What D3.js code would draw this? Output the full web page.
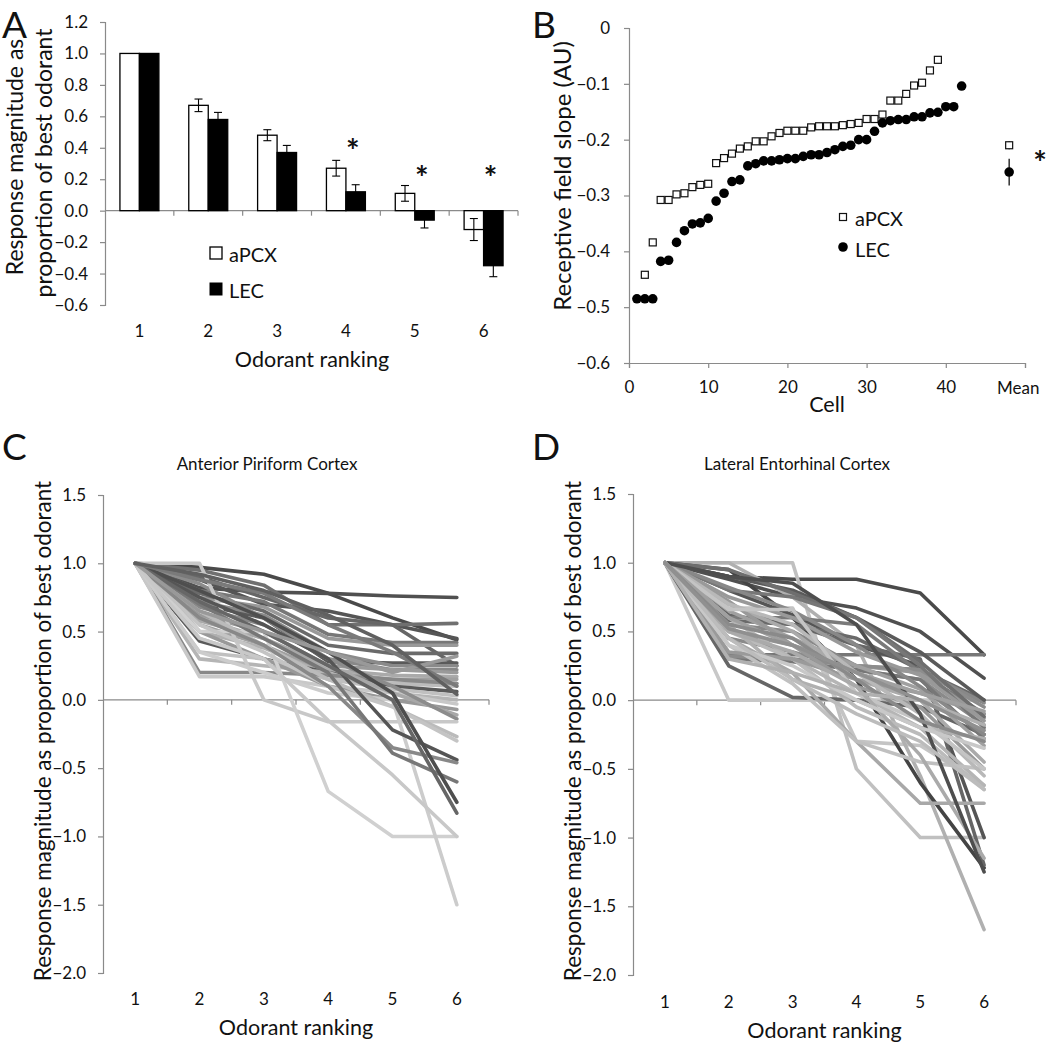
<!DOCTYPE html>
<html>
<head>
<meta charset="utf-8">
<script src="https://cdn.jsdelivr.net/npm/d3@7"></script>
<style>
  body { margin: 0; background: #fff; }
  svg { display: block; }
  text { font-family: Lato, "Open Sans", sans-serif; fill: #111; }
</style>
</head>
<body>
<svg id="chart" width="1050" height="1043"></svg>
<script>
// ---------------- DATA ----------------
// Panel A
const rankings = [1, 2, 3, 4, 5, 6];
const aPCXMean = [1.0, 0.67, 0.48, 0.27, 0.11, -0.12];
const aPCXErr  = [0.0, 0.04, 0.035, 0.05, 0.05, 0.07];
const lecMean  = [1.0, 0.58, 0.37, 0.12, -0.06, -0.35];
const lecErr   = [0.0, 0.045, 0.045, 0.045, 0.05, 0.07];
const sigRanks = [4, 5, 6];
const aTicks = [-0.6, -0.4, -0.2, 0.0, 0.2, 0.4, 0.6, 0.8, 1.0, 1.2];

// Panel B
const aPCXCells = [2,3,4,5,6,7,8,9,10,11,12,13,14,15,16,17,18,19,20,21,22,23,24,25,26,27,28,29,30,31,32,33,34,35,36,37,38,39];
const aPCXSlopes = [-0.442,-0.384,-0.308,-0.308,-0.298,-0.296,-0.285,-0.281,-0.279,-0.242,-0.233,-0.225,-0.216,-0.212,-0.203,-0.203,-0.194,-0.188,-0.184,-0.184,-0.184,-0.178,-0.176,-0.176,-0.176,-0.174,-0.172,-0.170,-0.163,-0.163,-0.155,-0.130,-0.130,-0.118,-0.103,-0.098,-0.076,-0.057];
const lecCells = [1,2,3,4,5,6,7,8,9,10,11,12,13,14,15,16,17,18,19,20,21,22,23,24,25,26,27,28,29,30,31,32,33,34,35,36,37,38,39,40,41,42];
const lecSlopes = [-0.485,-0.485,-0.485,-0.418,-0.416,-0.384,-0.363,-0.351,-0.349,-0.341,-0.310,-0.296,-0.275,-0.272,-0.247,-0.243,-0.238,-0.238,-0.236,-0.234,-0.234,-0.230,-0.227,-0.227,-0.223,-0.218,-0.212,-0.210,-0.200,-0.200,-0.185,-0.170,-0.166,-0.164,-0.164,-0.159,-0.159,-0.152,-0.151,-0.141,-0.141,-0.104];
const meanPos = 48;
const aPCXSlopeMean = -0.210, aPCXSlopeSem = 0.007;
const lecSlopeMean = -0.258, lecSlopeSem = 0.024;
const bYTicks = [-0.6, -0.5, -0.4, -0.3, -0.2, -0.1, 0];
const bXTicks = [0, 10, 20, 30, 40];

// Panels C & D: each row = one cell's responses at odorant ranks 1..6
const cdYTicks = [-2.0, -1.5, -1.0, -0.5, 0.0, 0.5, 1.0, 1.5];
const apcxLines = [
  [1, 0.97, 0.92, 0.78, 0.60, 0.44],
  [1, 0.82, 0.79, 0.78, 0.76, 0.75],
  [1, 0.88, 0.70, 0.65, 0.55, 0.45],
  [1, 0.95, 0.84, 0.55, 0.55, 0.56],
  [1, 0.90, 0.75, 0.60, 0.55, 0.25],
  [1, 0.80, 0.72, 0.48, 0.42, 0.42],
  [1, 0.75, 0.68, 0.45, 0.40, 0.40],
  [1, 0.78, 0.65, 0.40, 0.34, 0.34],
  [1, 0.70, 0.60, 0.28, 0.27, 0.27],
  [1, 0.72, 0.62, 0.35, 0.25, 0.25],
  [1, 0.68, 0.55, 0.30, 0.22, 0.22],
  [1, 0.62, 0.50, 0.25, 0.22, 0.20],
  [1, 0.58, 0.45, 0.22, 0.18, 0.17],
  [1, 0.55, 0.40, 0.20, 0.15, 0.15],
  [1, 0.50, 0.38, 0.18, 0.12, 0.12],
  [1, 0.45, 0.30, 0.15, 0.12, 0.10],
  [1, 0.43, 0.30, 0.20, 0.10, 0.06],
  [1, 0.35, 0.30, 0.15, 0.08, 0.03],
  [1, 0.30, 0.25, 0.20, 0.05, 0.00],
  [1, 0.20, 0.20, 0.18, 0.15, 0.12],
  [1, 0.17, 0.17, 0.10, 0.05, -0.03],
  [1, 0.50, 0.30, 0.10, 0.00, -0.07],
  [1, 0.60, 0.45, 0.25, 0.05, -0.11],
  [1, 0.85, 0.60, 0.30, 0.10, -0.14],
  [1, 1.00, 0.00, -0.16, -0.16, -0.16],
  [1, 0.50, 0.50, -0.67, -1.00, -1.00],
  [1, 0.35, 0.20, 0.05, 0.00, -1.50],
  [1, 0.65, 0.40, 0.15, -0.05, -0.27],
  [1, 0.55, 0.35, 0.10, -0.05, -0.30],
  [1, 0.75, 0.55, 0.30, -0.22, -0.44],
  [1, 0.60, 0.40, 0.10, -0.35, -0.46],
  [1, 0.70, 0.45, 0.20, -0.39, -0.60],
  [1, 0.80, 0.60, 0.35, 0.05, -0.75],
  [1, 0.72, 0.50, 0.25, 0.00, -0.83],
  [1, 0.45, 0.30, -0.15, -0.55, -1.00],
  [1, 0.65, 0.50, 0.35, 0.20, 0.32],
  [1, 0.88, 0.78, 0.55, 0.35, 0.10],
  [1, 0.92, 0.80, 0.62, 0.40, 0.04]
];
const lecLines = [
  [1, 0.90, 0.88, 0.88, 0.78, 0.33],
  [1, 0.88, 0.75, 0.67, 0.50, 0.16],
  [1, 0.33, 0.33, 0.33, 0.33, 0.33],
  [1, 0.00, 0.00, 0.00, 0.00, 0.00],
  [1, 1.00, 1.00, -0.50, -1.00, -1.00],
  [1, 0.67, 0.67, -0.30, -0.33, -0.62],
  [1, 1.00, 0.75, 0.40, -0.55, -1.67],
  [1, 0.95, 0.60, 0.15, -0.60, -1.22],
  [1, 0.80, 0.62, 0.40, 0.25, -1.00],
  [1, 0.62, 0.55, 0.40, 0.30, -1.20],
  [1, 0.58, 0.55, 0.45, 0.22, 0.00],
  [1, 0.60, 0.60, 0.55, 0.20, -0.10],
  [1, 0.55, 0.50, 0.25, 0.22, -0.02],
  [1, 0.50, 0.40, 0.25, 0.20, -0.13],
  [1, 0.45, 0.35, 0.22, 0.15, -0.18],
  [1, 0.25, 0.02, 0.00, -0.05, -0.25],
  [1, 0.30, 0.28, 0.22, 0.15, -0.28],
  [1, 0.32, 0.30, 0.25, 0.22, -0.05],
  [1, 0.65, 0.45, 0.25, 0.08, -0.33],
  [1, 0.70, 0.50, 0.15, 0.00, -0.45],
  [1, 0.72, 0.40, 0.10, -0.05, -0.50],
  [1, 0.60, 0.30, 0.05, -0.20, -0.62],
  [1, 0.50, 0.30, -0.05, -0.25, -0.65],
  [1, 0.45, 0.20, -0.30, -0.75, -0.75],
  [1, 0.40, 0.12, -0.30, -0.45, -0.50],
  [1, 0.55, 0.15, 0.00, -0.20, -0.28],
  [1, 0.35, 0.30, 0.15, 0.05, -0.10],
  [1, 0.90, 0.80, 0.60, 0.35, 0.00],
  [1, 0.95, 0.78, 0.60, 0.28, -0.12],
  [1, 0.80, 0.75, 0.60, 0.25, -0.20],
  [1, 0.82, 0.65, 0.40, 0.10, -0.25],
  [1, 0.75, 0.60, 0.35, 0.18, -0.15],
  [1, 0.70, 0.55, 0.20, -0.10, -0.55],
  [1, 0.66, 0.66, 0.05, -0.15, -0.50],
  [1, 0.50, 0.35, 0.10, -0.40, -1.15],
  [1, 0.90, 0.85, 0.55, -0.10, -1.25],
  [1, 0.40, 0.25, 0.00, -0.20, -0.35],
  [1, 0.60, 0.40, 0.20, 0.05, -0.08],
  [1, 0.55, 0.45, 0.15, -0.15, -0.30],
  [1, 0.45, 0.15, -0.10, -0.30, -0.65],
  [1, 0.30, 0.20, 0.05, 0.00, -0.18],
  [1, 0.52, 0.40, 0.20, 0.00, -0.22]
];
// line shades (style)
const apcxShades = ["#4a4a4a","#505050","#555555","#707070","#666666","#777777","#999999","#6a6a6a","#5a5a5a","#8a8a8a","#888888","#9a9a9a","#aaaaaa","#a0a0a0","#b0b0b0","#bbbbbb","#5a5a5a","#c0c0c0","#b5b5b5","#888888","#c8c8c8","#999999","#a8a8a8","#8c8c8c","#c8c8c8","#d0d0d0","#cccccc","#bbbbbb","#c4c4c4","#555555","#888888","#777777","#4e4e4e","#666666","#c8c8c8","#999999","#7a7a7a","#606060"];
const lecShades = ["#4a4a4a","#505050","#777777","#c8c8c8","#c0c0c0","#c4c4c4","#b0b0b0","#444444","#555555","#666666","#6a6a6a","#7a7a7a","#888888","#999999","#8a8a8a","#666666","#777777","#8c8c8c","#a0a0a0","#aaaaaa","#999999","#b5b5b5","#bbbbbb","#a8a8a8","#c0c0c0","#b0b0b0","#9a9a9a","#5a5a5a","#6e6e6e","#777777","#888888","#999999","#b8b8b8","#c4c4c4","#aaaaaa","#4e4e4e","#c8c8c8","#a0a0a0","#8a8a8a","#bcbcbc","#b0b0b0","#909090"];

// ---------------- DRAWING ----------------
const svg = d3.select("#chart");
const AXIS = "#8a8a8a";
const fmt1 = d3.format(".1f");
const fmtB = v => (v === 0 ? "0" : d3.format(".1f")(v));

function styleAxis(g) {
  g.selectAll(".domain").attr("stroke", AXIS).attr("stroke-width", 1.2);
  g.selectAll(".tick line").attr("stroke", AXIS).attr("stroke-width", 1.2);
  g.selectAll(".tick text").attr("font-family", "Lato, sans-serif").attr("font-size", 17).attr("fill", "#111");
}

function panelLetter(t, x, y) {
  svg.append("text").attr("x", x).attr("y", y).text(t)
    .attr("font-family", "'Liberation Sans', Arial, sans-serif").attr("font-size", 37);
}

// ===== Panel A =====
(function () {
  const x = d3.scaleBand().domain(rankings).range([105, 518]);
  const y = d3.scaleLinear().domain([-0.6, 1.2]).range([305, 22]);
  const bw = x.bandwidth() * 0.283;

  const ya = svg.append("g").attr("transform", "translate(105,0)")
    .call(d3.axisLeft(y).tickValues(aTicks).tickFormat(fmt1).tickSize(5).tickPadding(12));
  styleAxis(ya);

  svg.append("line").attr("x1", 105).attr("x2", 518).attr("y1", y(0)).attr("y2", y(0))
    .attr("stroke", AXIS).attr("stroke-width", 1.2);
  rankings.forEach(r => {
    const bx = x(r) + x.bandwidth();
    svg.append("line").attr("x1", bx).attr("x2", bx).attr("y1", y(0)).attr("y2", y(0) + 5)
      .attr("stroke", AXIS).attr("stroke-width", 1.2);
    svg.append("text").attr("x", x(r) + x.bandwidth() / 2).attr("y", 337)
      .attr("text-anchor", "middle").attr("font-size", 17).text(r);
  });

  const g = svg.append("g");
  rankings.forEach((r, i) => {
    const cx = x(r) + x.bandwidth() / 2;
    const v1 = aPCXMean[i];
    g.append("rect").attr("x", cx - bw).attr("width", bw)
      .attr("y", Math.min(y(v1), y(0))).attr("height", Math.abs(y(v1) - y(0)))
      .attr("fill", "#fff").attr("stroke", "#000").attr("stroke-width", 1.3);
    const v2 = lecMean[i];
    g.append("rect").attr("x", cx).attr("width", bw)
      .attr("y", Math.min(y(v2), y(0))).attr("height", Math.abs(y(v2) - y(0)))
      .attr("fill", "#000").attr("stroke", "#000").attr("stroke-width", 1.3);
    [[cx - bw / 2, v1, aPCXErr[i]], [cx + bw / 2, v2, lecErr[i]]].forEach(([ex, v, e]) => {
      if (e <= 0) return;
      g.append("line").attr("x1", ex).attr("x2", ex).attr("y1", y(v - e)).attr("y2", y(v + e))
        .attr("stroke", "#000").attr("stroke-width", 1.1);
      [v - e, v + e].forEach(t => g.append("line").attr("x1", ex - 4).attr("x2", ex + 4)
        .attr("y1", y(t)).attr("y2", y(t)).attr("stroke", "#000").attr("stroke-width", 1.1));
    });
  });
  const starY = {4: 145, 5: 172, 6: 172};
  sigRanks.forEach(r => {
    svg.append("text").attr("x", x(r) + x.bandwidth() / 2 + 7).attr("y", starY[r] + 18)
      .attr("text-anchor", "middle").attr("font-family", "'Liberation Sans', Arial, sans-serif")
      .attr("font-weight", "bold").attr("font-size", 32).text("*");
  });

  svg.append("rect").attr("x", 210).attr("y", 247).attr("width", 12).attr("height", 12)
    .attr("fill", "#fff").attr("stroke", "#000").attr("stroke-width", 1.3);
  svg.append("text").attr("x", 229).attr("y", 262).attr("font-size", 20).text("aPCX");
  svg.append("rect").attr("x", 210).attr("y", 283).attr("width", 12).attr("height", 12)
    .attr("fill", "#000").attr("stroke", "#000");
  svg.append("text").attr("x", 229).attr("y", 298).attr("font-size", 20).text("LEC");

  svg.append("text").attr("transform", "translate(23,157) rotate(-90)").attr("text-anchor", "middle")
    .attr("font-size", 23).text("Response magnitude as");
  svg.append("text").attr("transform", "translate(52,163) rotate(-90)").attr("text-anchor", "middle")
    .attr("font-size", 23).text("proportion of best odorant");
  svg.append("text").attr("x", 312).attr("y", 367).attr("text-anchor", "middle")
    .attr("font-size", 21.5).text("Odorant ranking");
  panelLetter("A", 2, 38);
})();

// ===== Panel B =====
(function () {
  const x = d3.scaleLinear().domain([0, 50]).range([629, 1025]);
  const y = d3.scaleLinear().domain([-0.6, 0]).range([363, 28]);

  const ya = svg.append("g").attr("transform", "translate(629,0)")
    .call(d3.axisLeft(y).tickValues(bYTicks).tickFormat(fmtB).tickSize(5).tickPadding(14));
  styleAxis(ya);
  const xa = svg.append("g").attr("transform", `translate(0,${y(-0.6)})`)
    .call(d3.axisBottom(x).tickValues([0, 10, 20, 30, 40, 50]).tickFormat(d => (bXTicks.includes(d) ? d : "")).tickSize(5).tickPadding(13));
  styleAxis(xa);
  svg.append("text").attr("x", x(meanPos) + 9).attr("y", 394).attr("text-anchor", "middle")
    .attr("font-size", 17).text("Mean");

  const s = 7;
  svg.append("g").selectAll("rect").data(aPCXCells).join("rect")
    .attr("x", (d) => x(d) - s / 2).attr("y", (d, i) => y(aPCXSlopes[i]) - s / 2)
    .attr("width", s).attr("height", s).attr("fill", "#fff").attr("stroke", "#111").attr("stroke-width", 1.2);
  svg.append("g").selectAll("circle").data(lecCells).join("circle")
    .attr("cx", d => x(d)).attr("cy", (d, i) => y(lecSlopes[i])).attr("r", 4.8).attr("fill", "#000");

  svg.append("line").attr("x1", x(meanPos)).attr("x2", x(meanPos))
    .attr("y1", y(lecSlopeMean - lecSlopeSem)).attr("y2", y(lecSlopeMean + lecSlopeSem))
    .attr("stroke", "#111").attr("stroke-width", 1.3);
  svg.append("line").attr("x1", x(meanPos)).attr("x2", x(meanPos))
    .attr("y1", y(aPCXSlopeMean - aPCXSlopeSem)).attr("y2", y(aPCXSlopeMean + aPCXSlopeSem))
    .attr("stroke", "#111").attr("stroke-width", 1.3);
  svg.append("rect").attr("x", x(meanPos) - s / 2).attr("y", y(aPCXSlopeMean) - s / 2)
    .attr("width", s).attr("height", s).attr("fill", "#fff").attr("stroke", "#111").attr("stroke-width", 1.2);
  svg.append("circle").attr("cx", x(meanPos)).attr("cy", y(lecSlopeMean)).attr("r", 4.8).attr("fill", "#000");
  svg.append("text").attr("x", 1040).attr("y", 175).attr("text-anchor", "middle")
    .attr("font-family", "'Liberation Sans', Arial, sans-serif").attr("font-weight", "bold")
    .attr("font-size", 32).text("*");

  svg.append("rect").attr("x", 843 - s / 2).attr("y", 217 - s / 2).attr("width", s).attr("height", s)
    .attr("fill", "#fff").attr("stroke", "#111").attr("stroke-width", 1.2);
  svg.append("text").attr("x", 855).attr("y", 226).attr("font-size", 20).text("aPCX");
  svg.append("circle").attr("cx", 843).attr("cy", 247).attr("r", 4.8).attr("fill", "#000");
  svg.append("text").attr("x", 855).attr("y", 257).attr("font-size", 20).text("LEC");

  svg.append("text").attr("transform", "translate(571,176) rotate(-90)").attr("text-anchor", "middle")
    .attr("font-size", 24).text("Receptive field slope (AU)");
  svg.append("text").attr("x", 827).attr("y", 412).attr("text-anchor", "middle")
    .attr("font-size", 21.5).text("Cell");
  panelLetter("B", 532, 38);
})();

// ===== Panels C & D =====
function linePanel(opt) {
  const x = d3.scaleBand().domain(rankings).range([opt.x0, opt.x1]);
  const y = d3.scaleLinear().domain([-2, 1.5]).range([opt.yb, opt.yt]);
  const ya = svg.append("g").attr("transform", `translate(${opt.x0},0)`)
    .call(d3.axisLeft(y).tickValues(cdYTicks).tickFormat(fmt1).tickSize(5).tickPadding(12));
  styleAxis(ya);
  svg.append("line").attr("x1", opt.x0).attr("x2", opt.x1).attr("y1", y(0)).attr("y2", y(0))
    .attr("stroke", AXIS).attr("stroke-width", 1.2);
  rankings.forEach(r => {
    const bx = x(r) + x.bandwidth();
    svg.append("line").attr("x1", bx).attr("x2", bx).attr("y1", y(0)).attr("y2", y(0) + 5)
      .attr("stroke", AXIS).attr("stroke-width", 1.2);
    svg.append("text").attr("x", x(r) + x.bandwidth() / 2).attr("y", opt.tickY)
      .attr("text-anchor", "middle").attr("font-size", 17).text(r);
  });
  const line = d3.line().x((d, i) => x(rankings[i]) + x.bandwidth() / 2).y(d => y(d));
  svg.append("g").selectAll("path").data(opt.lines).join("path")
    .attr("d", line).attr("fill", "none")
    .attr("stroke", (d, i) => opt.shades[i % opt.shades.length])
    .attr("stroke-width", 3.6).attr("stroke-linejoin", "round").attr("stroke-linecap", "round");

  svg.append("text").attr("transform", `translate(${opt.labX},731) rotate(-90)`)
    .attr("text-anchor", "middle").attr("font-size", 22.5).text("Response magnitude as proportion of best odorant");
  svg.append("text").attr("x", (opt.x0 + opt.x1) / 2).attr("y", opt.tickY + 30).attr("text-anchor", "middle")
    .attr("font-size", 21.5).text("Odorant ranking");
  svg.append("text").attr("x", opt.titleX).attr("y", opt.titleY).attr("text-anchor", "middle")
    .attr("font-size", 17).text(opt.title);
  panelLetter(opt.letter, opt.letterX, opt.letterY);
}

linePanel({x0: 103, x1: 489, yt: 495, yb: 973, tickY: 1005, labX: 51, lines: apcxLines, shades: apcxShades,
  title: "Anterior Piriform Cortex", titleX: 267, titleY: 470, letter: "C", letterX: 2, letterY: 460});
linePanel({x0: 633, x1: 1016, yt: 494, yb: 975, tickY: 1008, labX: 581, lines: lecLines, shades: lecShades,
  title: "Lateral Entorhinal Cortex", titleX: 797, titleY: 470, letter: "D", letterX: 532, letterY: 460});
</script>
</body>
</html>
